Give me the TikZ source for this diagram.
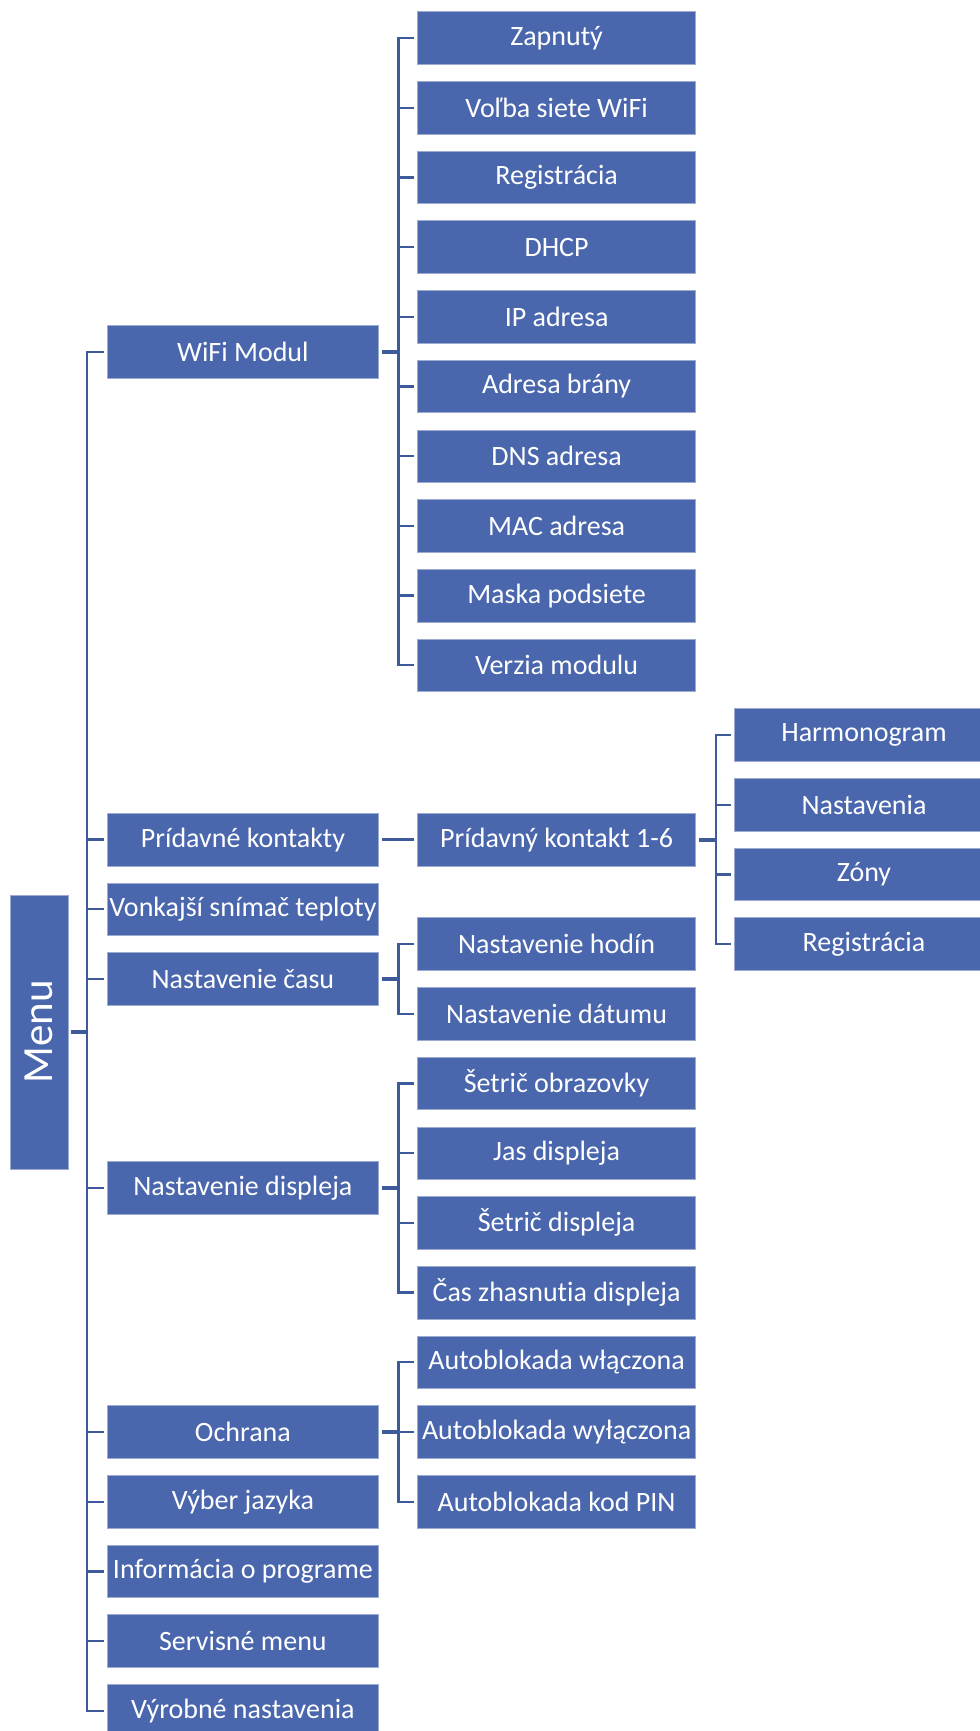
\documentclass[tikz,border=0pt]{standalone}
\usepackage{fontspec}
\setmainfont{Carlito}[Ligatures=NoCommon]
\definecolor{boxblue}{HTML}{4A67AE}
\definecolor{linkblue}{HTML}{3F5A9A}
\tikzset{
    box/.style={rectangle, fill=boxblue, draw=boxblue!55!white, line width=0.4pt, text=white, inner sep=0pt, minimum height=26.3pt, font=\fontsize{14}{16}\selectfont},
    boxa/.style={box, minimum width=135.3pt},
    boxb/.style={box, minimum width=139pt},
    boxc/.style={box, minimum width=129.5pt},
    link/.style={draw=linkblue, line width=1.15pt, shorten >=1.4pt},
    stub/.style={draw=linkblue, line width=2pt, shorten <=1.5pt}
}
\begin{document}
\begin{tikzpicture}[x=0.5pt, y=-0.5pt]
        \useasboundingbox (0,0) rectangle (980,1731);
        \clip (0,0) rectangle (980,1731);

        % Koren
        \node[box, minimum width=137pt, minimum height=29pt, rotate=90, font=\fontsize{21.5}{24}\selectfont] (menu) at (39,1032) {Menu};

        % Kmene
        \coordinate (t1) at (87,0);
        \coordinate (t2) at (398.5,0);
        \coordinate (t3) at (715.7,0);

        % Prva uroven
        \node[boxa] (wifi) at (242.9,351.7) {WiFi Modul};
        \node[boxa] (pk) at (242.9,839.6) {Prídavné kontakty};
        \node[boxa] (temp) at (242.9,909.3) {Vonkajší snímač teploty};
        \node[boxa] (time) at (242.9,979) {Nastavenie času};
        \node[boxa] (disp) at (242.9,1188.1) {Nastavenie displeja};
        \node[boxa] (prot) at (242.9,1432) {Ochrana};
        \node[boxa] (lang) at (242.9,1501.7) {Výber jazyka};
        \node[boxa] (info) at (242.9,1571.4) {Informácia o programe};
        \node[boxa] (serv) at (242.9,1641.1) {Servisné menu};
        \node[boxa] (fact) at (242.9,1710.8) {Výrobné nastavenia};

        % WiFi Modul
        \node[boxb] (zap) at (556.6,38) {Zapnutý};
        \node[boxb] (net) at (556.6,107.7) {Voľba siete WiFi};
        \node[boxb] (reg) at (556.6,177.4) {Registrácia};
        \node[boxb] (dhcp) at (556.6,247.1) {DHCP};
        \node[boxb] (ip) at (556.6,316.8) {IP adresa};
        \node[boxb] (gate) at (556.6,386.5) {Adresa brány};
        \node[boxb] (dns) at (556.6,456.2) {DNS adresa};
        \node[boxb] (mac) at (556.6,525.9) {MAC adresa};
        \node[boxb] (mask) at (556.6,595.6) {Maska podsiete};
        \node[boxb] (ver) at (556.6,665.3) {Verzia modulu};

        % Pridavne kontakty
        \node[boxb] (pk1) at (556.6,839.6) {Prídavný kontakt 1-6};
        \node[boxc] (sched) at (864,735) {Harmonogram};
        \node[boxc] (sett) at (864,804.7) {Nastavenia};
        \node[boxc] (zone) at (864,874.4) {Zóny};
        \node[boxc] (reg2) at (864,944.1) {Registrácia};

        % Cas
        \node[boxb] (clock) at (556.6,944.1) {Nastavenie hodín};
        \node[boxb] (date) at (556.6,1013.8) {Nastavenie dátumu};

        % Displej
        \node[boxb] (saver) at (556.6,1083.5) {Šetrič obrazovky};
        \node[boxb] (bright) at (556.6,1153.2) {Jas displeja};
        \node[boxb] (dsaver) at (556.6,1222.9) {Šetrič displeja};
        \node[boxb] (off) at (556.6,1292.6) {Čas zhasnutia displeja};

        % Ochrana
        \node[boxb] (alon) at (556.6,1362.3) {Autoblokada włączona};
        \node[boxb] (aloff) at (556.6,1432) {Autoblokada wyłączona};
        \node[boxb] (apin) at (556.6,1501.7) {Autoblokada kod PIN};

        % Spojnice
        \draw[stub] (menu.south) -- (menu.south -| t1);
        \foreach \n in {wifi,pk,temp,time,disp,prot,lang,info,serv,fact}
            \draw[link] (menu.south -| t1) |- (\n.west);

        \draw[stub] (wifi.east) -- (wifi.east -| t2);
        \foreach \n in {zap,net,reg,dhcp,ip,gate,dns,mac,mask,ver}
            \draw[link] (wifi.east -| t2) |- (\n.west);

        \draw[link, shorten <=1.5pt] (pk.east) -- (pk1.west);
        \draw[stub] (pk1.east) -- (pk1.east -| t3);
        \foreach \n in {sched,sett,zone,reg2}
            \draw[link] (pk1.east -| t3) |- (\n.west);

        \draw[stub] (time.east) -- (time.east -| t2);
        \foreach \n in {clock,date}
            \draw[link] (time.east -| t2) |- (\n.west);

        \draw[stub] (disp.east) -- (disp.east -| t2);
        \foreach \n in {saver,bright,dsaver,off}
            \draw[link] (disp.east -| t2) |- (\n.west);

        \draw[stub] (prot.east) -- (prot.east -| t2);
        \foreach \n in {alon,aloff,apin}
            \draw[link] (prot.east -| t2) |- (\n.west);

    \end{tikzpicture}
\end{document}
